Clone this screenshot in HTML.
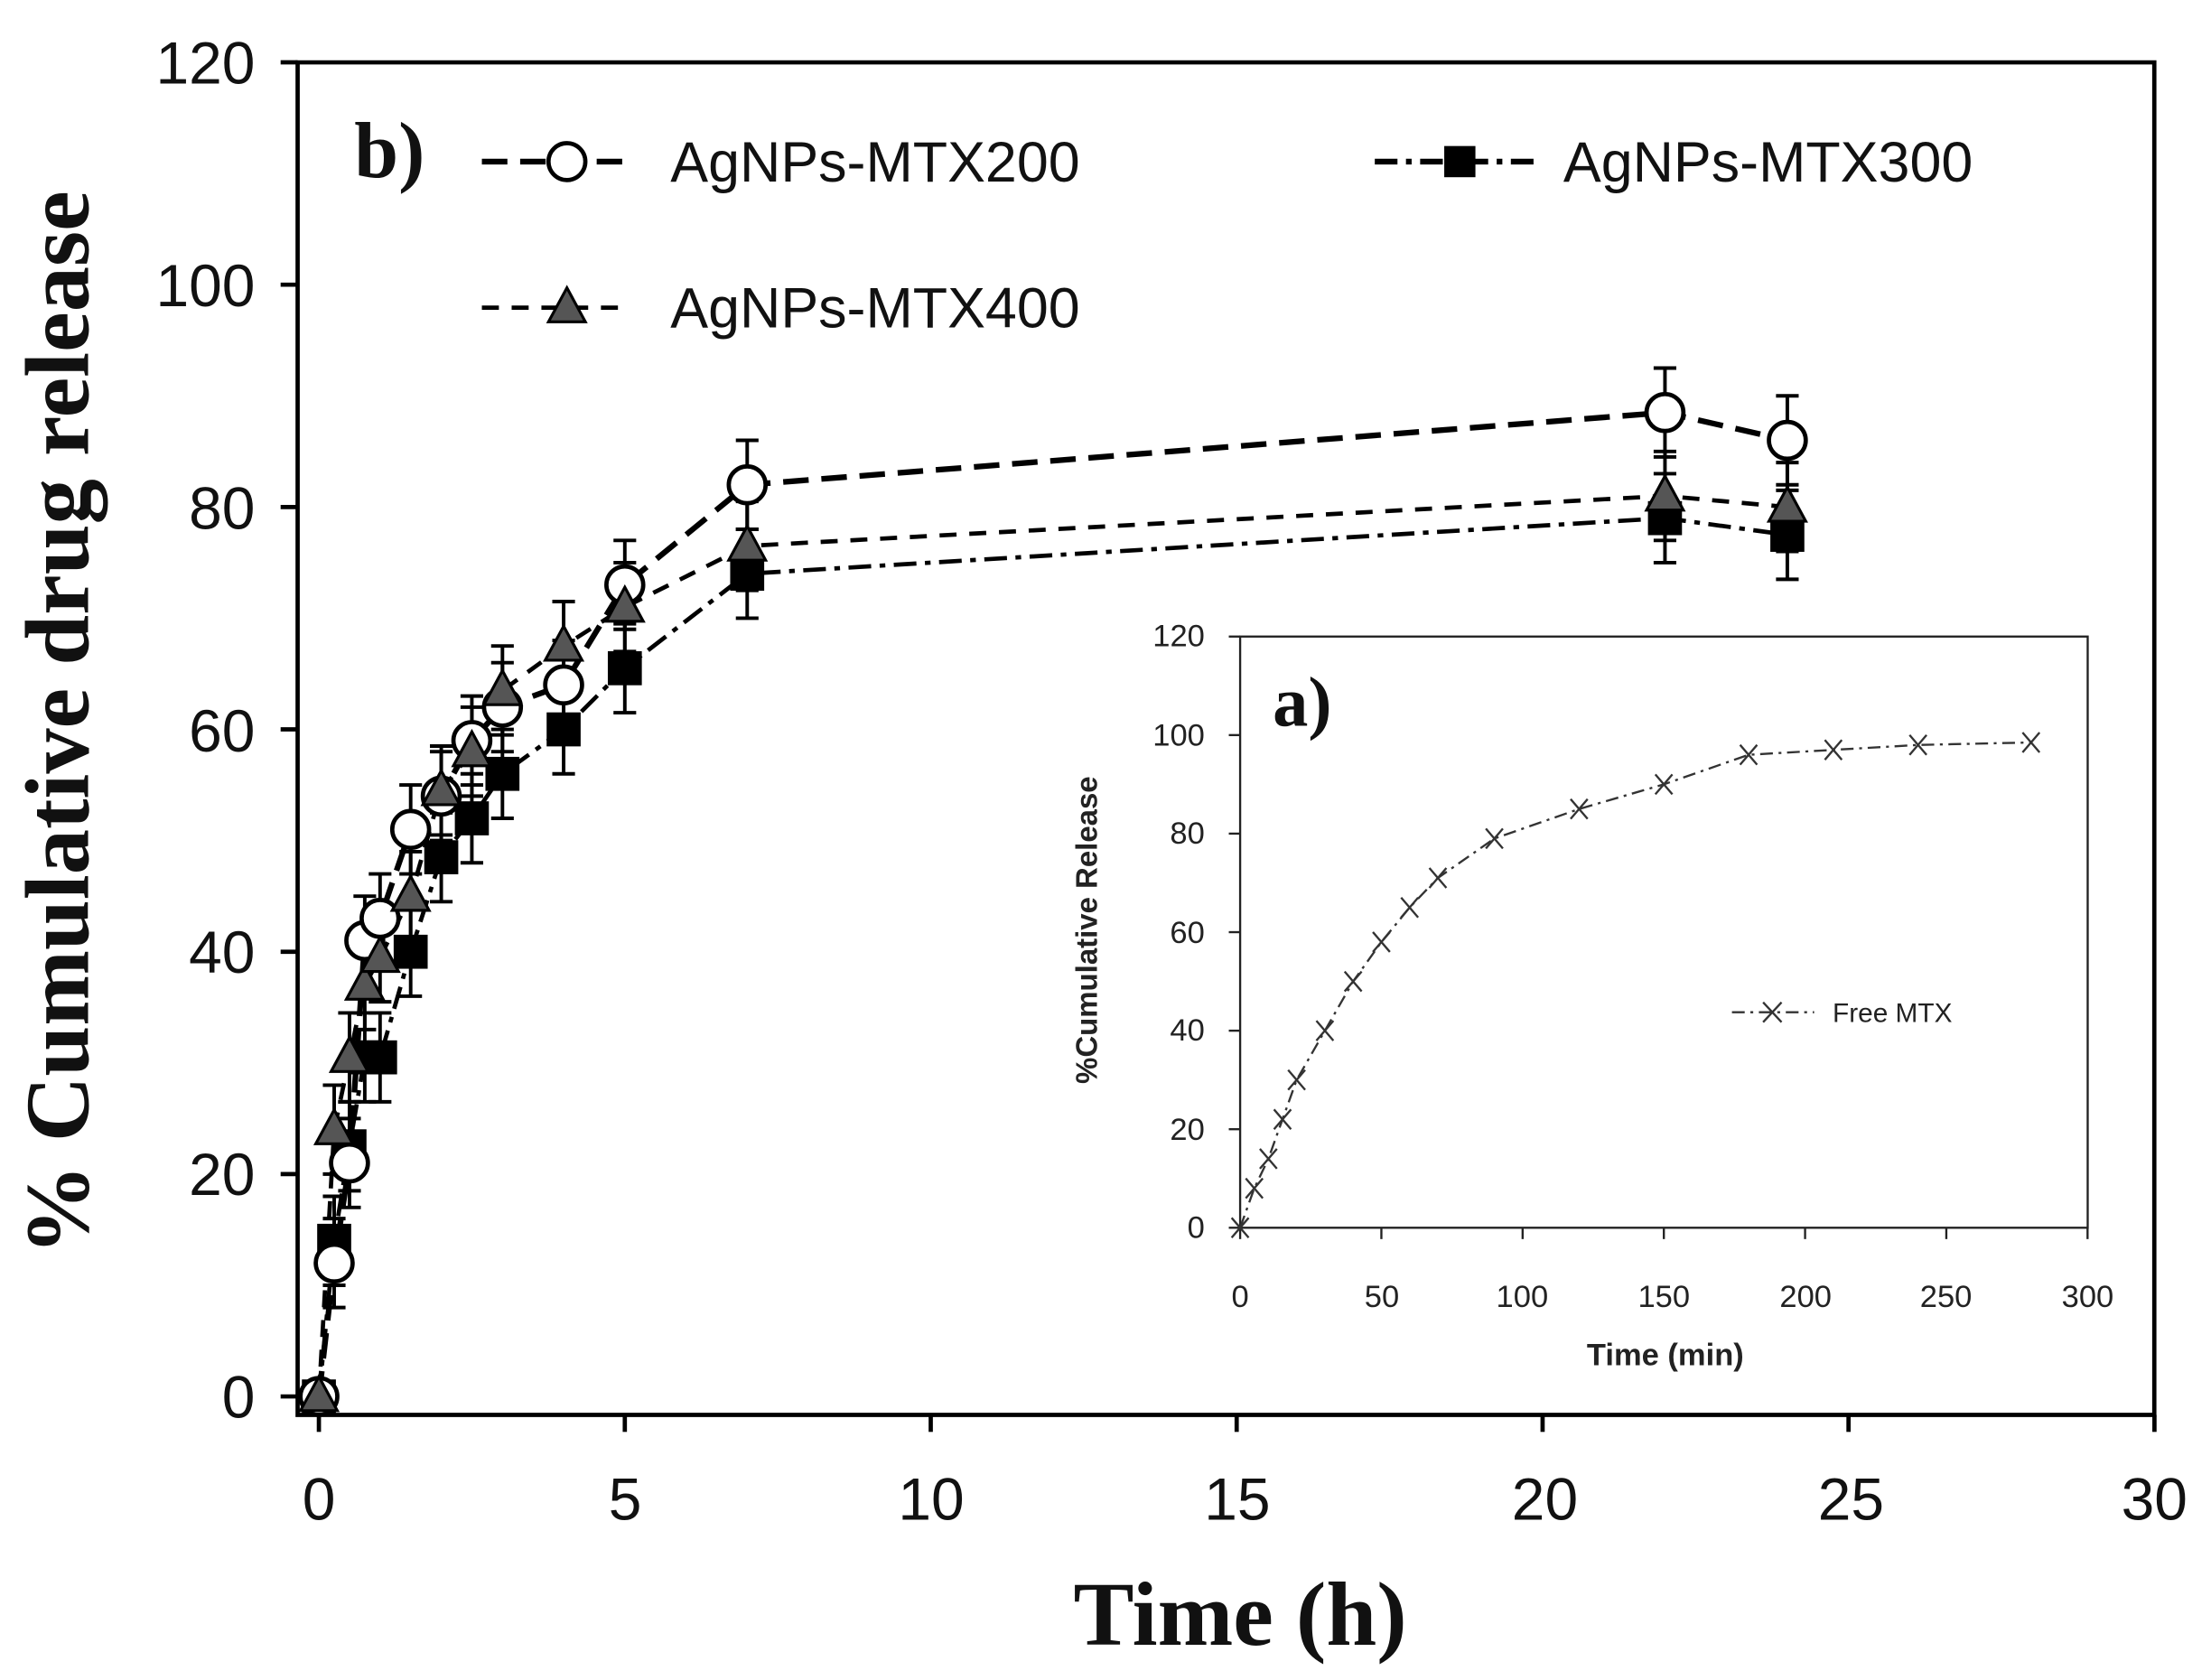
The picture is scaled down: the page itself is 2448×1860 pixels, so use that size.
<!DOCTYPE html>
<html><head><meta charset="utf-8"><style>
html,body{margin:0;padding:0;background:#fff;}
svg{display:block;}
</style></head><body>
<svg id="s" width="2448" height="1860" viewBox="0 0 1560 1185" preserveAspectRatio="none" xmlns="http://www.w3.org/2000/svg">
<rect width="1560" height="1185" fill="#fff"/>
<g id="main"></g>
<!-- main box -->
<path d="M210 44 H1520 V998 H210 Z" fill="none" stroke="#000" stroke-width="3"/>
<g id="ticks" stroke="#000" stroke-width="3"></g>
<g font-family="Liberation Sans, sans-serif" font-size="42" fill="#111" text-anchor="end">
<text x="180" y="1000">0</text><text x="180" y="843">20</text><text x="180" y="686">40</text>
<text x="180" y="530">60</text><text x="180" y="373">80</text><text x="180" y="216">100</text><text x="180" y="59">120</text>
</g>
<g font-family="Liberation Sans, sans-serif" font-size="42" fill="#111" text-anchor="middle">
<text x="225" y="1072">0</text><text x="441" y="1072">5</text><text x="657" y="1072">10</text>
<text x="873" y="1072">15</text><text x="1090" y="1072">20</text><text x="1306" y="1072">25</text><text x="1520" y="1072">30</text>
</g>
<text x="875" y="1160" font-family="Liberation Serif, serif" font-weight="bold" font-size="64" text-anchor="middle" fill="#111">Time (h)</text>
<text transform="translate(62,510) rotate(-90)" font-family="Liberation Serif, serif" font-weight="bold" font-size="64" text-anchor="middle" fill="#111">% Cumulative drug release</text>
<text x="250" y="125" font-family="Liberation Serif, serif" font-weight="bold" font-size="56" fill="#111">b)</text>
<g font-family="Liberation Sans, sans-serif" font-size="40" fill="#111">
<text x="473" y="128">AgNPs-MTX200</text>
<text x="1103" y="128">AgNPs-MTX300</text>
<text x="473" y="231">AgNPs-MTX400</text>
</g>
<g stroke="#000" stroke-width="4" fill="none">
<line x1="340" y1="114" x2="440" y2="114" stroke-dasharray="18,9"/>
<line x1="970" y1="114" x2="1085" y2="114" stroke-dasharray="16,6,4,6"/>
<line x1="340" y1="217" x2="440" y2="217" stroke-dasharray="12,9" stroke-width="3"/>
</g>
<circle cx="400" cy="114" r="13" fill="#fff" stroke="#000" stroke-width="3"/>
<rect x="1019" y="103" width="22" height="22" fill="#000"/>
<polygon points="400,203 413,227 387,227" fill="#555" stroke="#000" stroke-width="2"/>
<!-- inset -->
<rect x="875" y="449" width="598" height="417" fill="#fff" stroke="#222" stroke-width="1.5"/>
<g id="inset"></g>
<g font-family="Liberation Sans, sans-serif" font-size="22" fill="#222" text-anchor="end">
<text x="850" y="873">0</text><text x="850" y="804">20</text><text x="850" y="734">40</text><text x="850" y="665">60</text>
<text x="850" y="595">80</text><text x="850" y="526">100</text><text x="850" y="456">120</text>
</g>
<g font-family="Liberation Sans, sans-serif" font-size="22" fill="#222" text-anchor="middle">
<text x="875" y="922">0</text><text x="975" y="922">50</text><text x="1074" y="922">100</text><text x="1174" y="922">150</text>
<text x="1274" y="922">200</text><text x="1373" y="922">250</text><text x="1473" y="922">300</text>
</g>
<text x="1175" y="963" font-family="Liberation Sans, sans-serif" font-weight="bold" font-size="22" text-anchor="middle" fill="#222">Time (min)</text>
<text transform="translate(774,656) rotate(-90)" font-family="Liberation Sans, sans-serif" font-weight="bold" font-size="21" text-anchor="middle" fill="#222">%Cumulative Release</text>
<text x="898" y="512" font-family="Liberation Serif, serif" font-weight="bold" font-size="50" fill="#111">a)</text>
<line x1="1222" y1="714" x2="1280" y2="714" stroke="#333" stroke-width="1.5" stroke-dasharray="9,4,2,4"/>
<path d="M1244 707 l13 14 M1257 707 l-13 14" stroke="#333" stroke-width="1.5"/>
<text x="1293" y="721" font-family="Liberation Sans, sans-serif" font-size="19" fill="#222">Free MTX</text>
</svg>
<script>
var NS="http://www.w3.org/2000/svg";
function el(p,t,a){var e=document.createElementNS(NS,t);for(var k in a)e.setAttribute(k,a[k]);p.appendChild(e);return e;}
var X=function(h){return 225+43.17*h},Y=function(v){return 985-7.842*v};
var tk=document.getElementById("ticks");
for(var k=0;k<=6;k++){var x=X(k*5);el(tk,"line",{x1:x,y1:998,x2:x,y2:1010});var y=Y(k*20);el(tk,"line",{x1:198,y1:y,x2:210,y2:y});}
var t=[0,0.25,0.5,0.75,1,1.5,2,2.5,3,4,5,7,22,24];
var c=[0,12,21,41,43,51,54,59,62,64,73,82,88.5,86];
var s=[0,14,22.5,30.5,30.5,40,48.5,52,56,60,65.5,74,79,77.5];
var tr=[0,24,30.5,37,39.5,45,54.5,58,63.5,67.5,71,76.5,81,80];
var g=document.getElementById("main");
function line(d,dash,w){var p=t.map(function(h,i){return X(h)+","+Y(d[i])}).join(" ");
el(g,"polyline",{points:p,fill:"none",stroke:"#000","stroke-width":w,"stroke-dasharray":dash});}
line(c,"18,9",4);line(s,"16,6,4,6",3);line(tr,"12,9",3);
function err(d){t.forEach(function(h,i){if(i==0)return;var x=X(h),y1=Y(d[i]+4),y2=Y(d[i]-4);
el(g,"path",{d:"M"+x+" "+y1+"V"+y2+"M"+(x-8)+" "+y1+"h16M"+(x-8)+" "+y2+"h16",stroke:"#000","stroke-width":2.5,fill:"none"});});}
err(c);err(s);err(tr);
t.forEach(function(h,i){el(g,"rect",{x:X(h)-12,y:Y(s[i])-12,width:24,height:24,fill:"#000"});});
t.forEach(function(h,i){el(g,"circle",{cx:X(h),cy:Y(c[i]),r:13,fill:"#fff",stroke:"#000","stroke-width":3});});
t.forEach(function(h,i){var x=X(h),y=Y(tr[i]);el(g,"polygon",{points:x+","+(y-14)+" "+(x+13)+","+(y+10)+" "+(x-13)+","+(y+10),fill:"#555",stroke:"#000","stroke-width":2});});
var gi=document.getElementById("inset");
var Xi=function(m){return 875+1.993*m},Yi=function(v){return 866-3.475*v};
for(var k=0;k<=6;k++){var x=Xi(k*50);el(gi,"line",{x1:x,y1:866,x2:x,y2:874,stroke:"#222","stroke-width":1.5});}
for(var k=0;k<=6;k++){var y=Yi(k*20);el(gi,"line",{x1:867,y1:y,x2:875,y2:y,stroke:"#222","stroke-width":1.5});}
var m=[0,5,10,15,20,30,40,50,60,70,90,120,150,180,210,240,280];
var v=[0,8,14,22,30,40,50,58,65,71,79,85,90,96,97,98,98.5];
el(gi,"polyline",{points:m.map(function(a,i){return Xi(a)+","+Yi(v[i])}).join(" "),fill:"none",stroke:"#333","stroke-width":1.5,"stroke-dasharray":"9,4,2,4"});
m.forEach(function(a,i){var x=Xi(a),y=Yi(v[i]);el(gi,"path",{d:"M"+(x-6)+" "+(y-7)+"l12 14M"+(x+6)+" "+(y-7)+"l-12 14",stroke:"#333","stroke-width":1.5});});
</script>
</body></html>
